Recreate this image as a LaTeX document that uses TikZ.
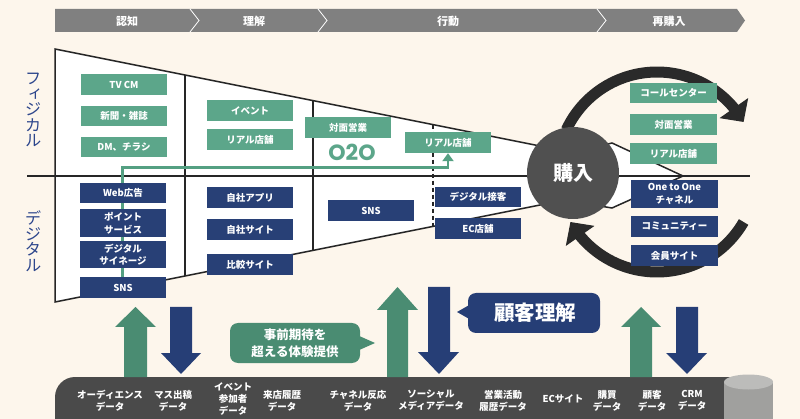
\documentclass[tikz,border=0pt]{standalone}
\usepackage{fontspec}
\setmainfont{Noto Sans CJK JP}
\newfontfamily\vjp[RawFeature=+vert]{Noto Sans CJK JP}
\newfontfamily\geo{Poppins}
\usetikzlibrary{arrows.meta}
\pgfdeclarelayer{back}
\pgfdeclarelayer{mid}
\pgfsetlayers{back,mid,main}
\definecolor{cBg}{RGB}{253,246,236}
\definecolor{cG}{RGB}{92,166,138}
\definecolor{cN}{RGB}{40,64,118}
\definecolor{cGA}{RGB}{74,140,114}
\definecolor{cNA}{RGB}{38,62,118}
\definecolor{cBar}{RGB}{128,128,128}
\definecolor{cDark}{RGB}{74,74,74}
\definecolor{cRing}{RGB}{42,42,42}
\definecolor{cCirc}{RGB}{80,80,80}
\definecolor{cSide}{RGB}{45,70,140}
\definecolor{cLine}{RGB}{84,160,130}
\definecolor{cCyl}{RGB}{160,160,158}
\definecolor{cCylTop}{RGB}{188,188,186}
\tikzset{
  boxg/.style={fill=cG, text=white, font=\bfseries\fontsize{9.5}{12.5}\selectfont, minimum width=86pt, minimum height=21pt, inner sep=0pt, align=center},
  boxn/.style={boxg, fill=cN},
  funnel/.style={draw=black!85, line width=1.5pt},
  toplbl/.style={text=white, font=\bfseries\fontsize{11}{13}\selectfont, inner sep=0pt},
  botlbl/.style={text=white, font=\bfseries\fontsize{9.5}{12}\selectfont, align=center, inner sep=0pt},
  sidelbl/.style={text=cSide, font=\vjp\fontsize{16.5}{15.5}\selectfont, align=center, inner sep=0pt},
  ringarc/.style={draw=cRing, line width=11pt, -{Triangle[width=34pt,length=17pt]}},
  o2oline/.style={draw=cLine, line width=2.5pt, -{Triangle[width=11pt,length=8pt]}},
}
\begin{document}
\begin{tikzpicture}[x=1pt,y=-1pt]
\useasboundingbox (0,0) rectangle (800,419);
\begin{pgfonlayer}{back}
\fill[cBg] (0,0) rectangle (800,419);
% top process bar
\fill[cBar] (55,9) -- (737,9) -- (745,20.5) -- (737,32) -- (55,32) -- cycle;
\foreach \cx in {190,318,597} \draw[white, line width=0.8pt] (\cx,9) -- (\cx+9,20.5) -- (\cx,32);
% funnel
\fill[white] (55,49) -- (560,150) -- (560,201) -- (55,302) -- cycle;
\draw[funnel] (560,150) -- (55,49) -- (55,302) -- (560,201);
\fill[white] (600,146) -- (612,143) -- (683,176) -- (612,208) -- (600,206) -- cycle;
\draw[funnel] (600,146) -- (612,143) -- (683,176) -- (612,208) -- (600,206);
\draw[funnel] (185,75) -- (185,276);
\draw[funnel] (313,100.6) -- (313,250.4);
\draw[funnel, line width=1.3pt, dash pattern=on 4pt off 3pt] (433,124.6) -- (433,226.4);
\draw[funnel] (27,176) -- (750,176);
% ring arrows
\draw[ringarc] plot[domain=205:320, samples=60] ({657+100*cos(\x)},{172+100*sin(\x)}) -- ({657+100*cos(330)},{172+100*sin(330)});
\draw[ringarc] plot[domain=30:140, samples=60] ({657+100*cos(\x)},{172+100*sin(\x)}) -- ({657+100*cos(150)},{172+100*sin(150)});
\end{pgfonlayer}

% top labels
\node[toplbl] (t1) at (127,21) {認知};
\node[toplbl] (t2) at (254,21) {理解};
\node[toplbl] (t3) at (448,21) {行動};
\node[toplbl] (t4) at (669,21) {再購入};

% side labels
\node[sidelbl] (phys) at (33,110) {フ\\ィ\\ジ\\カ\\ル};
\node[sidelbl] (digi) at (33,241) {デ\\ジ\\タ\\ル};

% purchase circle
\node[circle, fill=cCirc, minimum size=92pt, inner sep=0pt, text=white, font=\bfseries\fontsize{20}{22}\selectfont] (buy) at (573,173) {購入};

% physical boxes
\node[boxg] (tvcm) at (124,84.5) {TV CM};
\node[boxg, minimum height=20pt] (paper) at (124,116) {新聞・雑誌};
\node[boxg, minimum height=20pt] (dm) at (124,147) {DM、チラシ};
\node[boxg] (event) at (250,110.5) {イベント};
\node[boxg] (real1) at (250,139.5) {リアル店舗};
\node[boxg] (face1) at (348,127.5) {対面営業};
\node[boxg] (real2) at (448,142.5) {リアル店舗};
\node[boxg, minimum width=87pt, minimum height=20pt] (call) at (673.5,93) {コールセンター};
\node[boxg, minimum width=87pt] (face2) at (673.5,124.5) {対面営業};
\node[boxg, minimum width=87pt] (real3) at (673.5,153.5) {リアル店舗};
\node[text=cG, font=\geo\bfseries\fontsize{22}{24}\selectfont, inner sep=0pt] (o2o) at (352,152) {O2O};

% digital boxes
\node[boxn, minimum height=20pt] (web) at (123,193) {Web広告};
\node[boxn, minimum height=28pt] (point) at (123,223) {ポイント\\サービス};
\node[boxn, minimum height=27pt] (signage) at (123,254.5) {デジタル\\サイネージ};
\node[boxn] (sns1) at (123,287.5) {SNS};
\node[boxn] (app) at (250,197.5) {自社アプリ};
\node[boxn] (site) at (250,229.5) {自社サイト};
\node[boxn] (compare) at (250,264.5) {比較サイト};
\node[boxn] (sns2) at (371,210.5) {SNS};
\node[boxn, minimum height=20pt] (dsek) at (478,197) {デジタル接客};
\node[boxn] (ecs) at (478,228.5) {EC店舗};
\node[boxn, minimum width=87pt, minimum height=28pt] (oto) at (674.5,194) {One to One\\チャネル};
\node[boxn, minimum width=87pt] (comm) at (674.5,226.5) {コミュニティー};
\node[boxn, minimum width=87pt] (member) at (674.5,255.5) {会員サイト};

% O2O connector
\coordinate (o2oA) at (122.5,167.5);
\coordinate (o2oB) at (448,167.5);
\begin{pgfonlayer}{mid}
\draw[o2oline] (sns1.north -| o2oA) -- (o2oA) -- (o2oB) -- (real2.south);
\end{pgfonlayer}

% bottom data bar
\fill[cDark, rounded corners=20pt] (55,440) -- (55,377) -- (760,377) -- (760,440) -- cycle;
\fill[cCyl] (724,382) -- (724,419) -- (773,419) -- (773,382) -- cycle;
\fill[cCylTop] (748.5,382) ellipse[x radius=24.5, y radius=7.5];

\node[botlbl] (d1) at (110,400.5) {オーディエンス\\データ};
\node[botlbl] (d2) at (173,400.5) {マス出稿\\データ};
\node[botlbl] (d3) at (233,399) {イベント\\参加者\\データ};
\node[botlbl] (d4) at (282,400.5) {来店履歴\\データ};
\node[botlbl] (d5) at (358,400.5) {チャネル反応\\データ};
\node[botlbl] (d6) at (431,400.5) {ソーシャル\\メディアデータ};
\node[botlbl] (d7) at (503,400.5) {営業活動\\履歴データ};
\node[botlbl] (d8) at (563,398.5) {ECサイト};
\node[botlbl] (d9) at (607,400.5) {購買\\データ};
\node[botlbl] (d10) at (652,400.5) {顧客\\データ};
\node[botlbl] (d11) at (692,400.5) {CRM\\データ};

% big arrows
\fill[cGA] (124,377) -- (124,327) -- (115,327) -- (135.5,307) -- (156,327) -- (147,327) -- (147,377) -- cycle;
\fill[cNA] (170,307) -- (170,353) -- (161,353) -- (181,374) -- (201,353) -- (192,353) -- (192,307) -- cycle;
\fill[cGA] (387,377) -- (387,310) -- (377,310) -- (397.5,287) -- (418,310) -- (408,310) -- (408,377) -- cycle;
\fill[cNA] (428,287) -- (428,352) -- (418,352) -- (439,374) -- (459,352) -- (450,352) -- (450,287) -- cycle;
\fill[cGA] (630,377) -- (630,327) -- (621,327) -- (641,307) -- (661,327) -- (652,327) -- (652,377) -- cycle;
\fill[cNA] (676,307) -- (676,353) -- (666,353) -- (687,374) -- (707,353) -- (698,353) -- (698,307) -- cycle;

% callouts
\fill[cGA, rounded corners=8pt] (230,323) rectangle (360,363);
\fill[cGA] (357,335) -- (375,343) -- (357,351) -- cycle;
\node[text=white, font=\bfseries\fontsize{12.5}{17}\selectfont, align=center, inner sep=0pt] (exp) at (295,343.5) {事前期待を\\超える体験提供};
\fill[cNA, rounded corners=8pt] (468,293) rectangle (600,333);
\fill[cNA] (471,304) -- (457,312) -- (471,320) -- cycle;
\node[text=white, font=\bfseries\fontsize{20.5}{22}\selectfont, inner sep=0pt] (under) at (535,313) {顧客理解};
\end{tikzpicture}
\end{document}
